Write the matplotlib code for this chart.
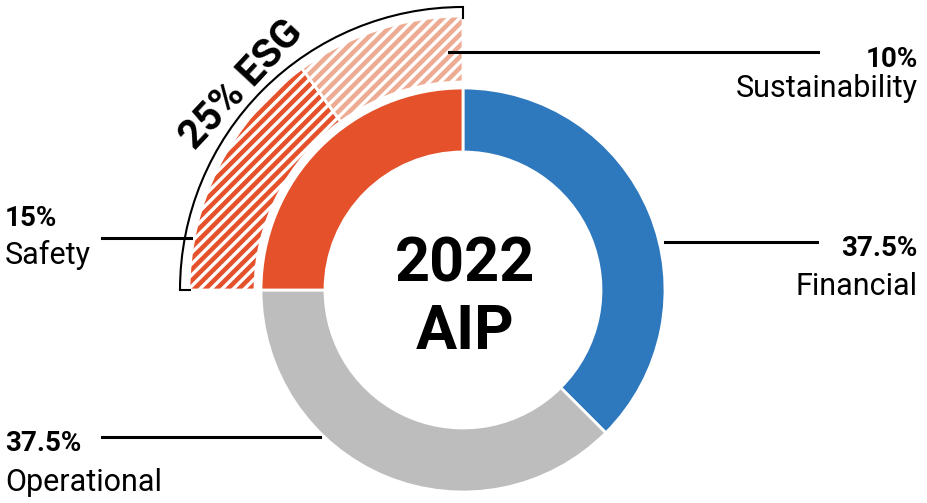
import matplotlib
matplotlib.use('Agg')
import matplotlib.pyplot as plt
from matplotlib.patches import Arc

# data
inner_labels = ['Financial', 'Operational', 'ESG']
inner_values = [37.5, 37.5, 25]
inner_colors = ['#2e78bd', '#bdbdbd', '#e5512a']

esg_labels = ['Safety', 'Sustainability']
esg_values = [15, 10]
esg_colors = ['#e5512a', '#eeab93']

W, H = 928, 503
CX, CY = 463, H - 290  # donut centre (y up)


def yy(y_img):
    return H - y_img


plt.rcParams['font.family'] = ['Roboto', 'DejaVu Sans']
plt.rcParams['hatch.linewidth'] = 2.4

fig = plt.figure(figsize=(W / 100, H / 100), dpi=100)
ax = fig.add_axes([0, 0, 1, 1])

# inner donut
ax.pie(inner_values, colors=inner_colors, startangle=90, counterclock=False,
       radius=202, center=(CX, CY),
       wedgeprops=dict(width=64, edgecolor='white', linewidth=2))

# outer hatched ESG ring (first slice is a spacer over financial + operational)
outer_vals = [sum(inner_values[:2])] + esg_values
wedges, _ = ax.pie(outer_vals, colors=['none'] + esg_colors, startangle=90,
                   counterclock=False, radius=274, center=(CX, CY),
                   wedgeprops=dict(width=66, edgecolor='white', linewidth=2))
wedges[0].set_visible(False)
for w in wedges[1:]:
    w.set_hatch('///')
    w.set_edgecolor('white')

# bracket arc round ESG
r_arc = 283
ax.add_patch(Arc((CX, CY), 2 * r_arc, 2 * r_arc, theta1=90, theta2=180,
                 color='black', lw=1.5))
ax.plot([CX, CX], [CY + r_arc, CY + r_arc - 11], color='black', lw=1.5)
ax.plot([CX - r_arc, CX - r_arc + 10], [CY, CY], color='black', lw=1.5)
ax.text(242, yy(85), '25% ESG', rotation=47, rotation_mode='anchor',
        ha='center', va='center', fontsize=29, fontweight='bold')

# leader lines
lw = 2.2
ax.plot([449, 818], [yy(52), yy(52)], color='black', lw=lw)
ax.plot([665, 817], [yy(242), yy(242)], color='black', lw=lw)
ax.plot([102, 191], [yy(238), yy(238)], color='black', lw=lw)
ax.plot([102, 320], [yy(437), yy(437)], color='black', lw=lw)

fs = 22
fsb = 20
pct = {'Financial': '37.5%', 'Operational': '37.5%', 'Safety': '15%',
       'Sustainability': '10%'}

ax.text(918, yy(67), pct['Sustainability'], ha='right', va='baseline',
        fontsize=fsb, fontweight='bold')
ax.text(918, yy(97), 'Sustainability', ha='right', va='baseline', fontsize=fs)
ax.text(918, yy(256), pct['Financial'], ha='right', va='baseline',
        fontsize=fsb, fontweight='bold')
ax.text(918, yy(295), 'Financial', ha='right', va='baseline', fontsize=fs)
ax.text(5, yy(226), pct['Safety'], ha='left', va='baseline',
        fontsize=fsb, fontweight='bold')
ax.text(5, yy(264), 'Safety', ha='left', va='baseline', fontsize=fs)
ax.text(5, yy(451), pct['Operational'], ha='left', va='baseline',
        fontsize=fsb, fontweight='bold')
ax.text(5, yy(491), 'Operational', ha='left', va='baseline', fontsize=fs)

# centre title
ax.text(465, yy(282), '2022', ha='center', va='baseline', fontsize=44,
        fontweight='bold')
ax.text(465, yy(349), 'AIP', ha='center', va='baseline', fontsize=44,
        fontweight='bold')

ax.set_xlim(0, W)
ax.set_ylim(0, H)
ax.set_aspect('equal')
ax.axis('off')

fig.savefig('out.png', dpi=100)
